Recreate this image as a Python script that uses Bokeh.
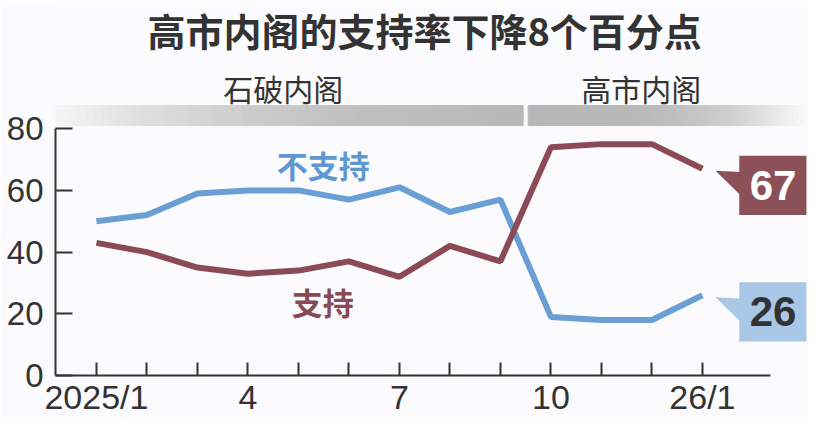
import numpy as np
from bokeh.plotting import figure
from bokeh.models import Range1d, FixedTicker, Label
from bokeh.embed import file_html
from bokeh.resources import INLINE

# ---- data ----
tick_labels = ["2025/1", "", "", "4", "", "", "7", "", "", "10", "", "", "26/1"]
support = [43, 40, 35, 33, 34, 37, 32, 42, 37, 74, 75, 75, 67]      # 支持
oppose = [50, 52, 59, 60, 60, 57, 61, 53, 57, 19, 18, 18, 26]       # 不支持
y_ticks = [0, 20, 40, 60, 80]
cabinets = ["石破内阁", "高市内阁"]
cabinet_split = 8.5   # between 2025/9 and 2025/10
title_text = "高市内阁的支持率下降8个百分点"

idx = list(range(len(tick_labels)))

BG = "#fbfbfd"
BLUE = "#6a9fd6"
RED = "#8b4a55"
BOX_RED = "#8c5059"
BOX_BLUE = "#a9c7e6"
DARK = "#333333"

X0 = -0.81
p = figure(width=808, height=418, x_range=Range1d(X0, X0 + 753 / 50.5), y_range=Range1d(0, 375 / 3.085),
           output_backend="svg", toolbar_location=None, title=None,
           min_border_left=55, min_border_right=0, min_border_top=0, min_border_bottom=43)
p.background_fill_color = BG
p.border_fill_color = BG
p.outline_line_color = None
p.grid.visible = False

# axes
p.xaxis.ticker = FixedTicker(ticks=idx)
p.xaxis.major_label_overrides = {i: lab for i, lab in enumerate(tick_labels)}
p.xaxis.bounds = (X0, 13.35)
p.xaxis.major_tick_in = 13
p.xaxis.major_tick_out = 0
p.xaxis.major_label_standoff = 2
p.xaxis.major_label_text_font_size = "34px"

p.yaxis.ticker = FixedTicker(ticks=y_ticks)
p.yaxis.bounds = (0, 80)
p.yaxis.major_tick_in = 17
p.yaxis.major_tick_out = 0
p.yaxis.major_label_standoff = 12
p.yaxis.major_label_text_font_size = "33px"

for ax in (p.xaxis, p.yaxis):
    ax.minor_tick_line_color = None
    ax.axis_line_color = DARK
    ax.axis_line_width = 2
    ax.major_tick_line_color = DARK
    ax.major_tick_line_width = 2
    ax.major_label_text_font = "Liberation Sans"
    ax.major_label_text_color = DARK

# ---- gradient bands for the two cabinets ----
def hexc(c):
    return "#%02x%02x%02x" % tuple(int(round(v)) for v in c)

def band(x0, x1, stops, n=60):
    edges = np.linspace(x0, x1, n + 1)
    sx = [s[0] for s in stops]
    sv = [s[1] for s in stops]
    cols = []
    for a, b in zip(edges[:-1], edges[1:]):
        t = (a + b) / 2
        g = np.interp(t, sx, sv)
        cols.append(hexc((g, g, g + 1)))
    p.quad(left=edges[:-1], right=edges[1:], top=87.5, bottom=81.0,
           fill_color=cols, line_color=cols, line_width=1)

band(X0, cabinet_split - 0.05, [(-0.9, 246), (1.0, 222), (3.0, 205), (5.0, 192), (8.5, 184)])
band(cabinet_split + 0.05, 14.0, [(8.55, 182), (11.0, 186), (12.5, 205), (14.0, 248)])

for name, cx in zip(cabinets, [3.7, 10.79]):
    p.add_layout(Label(x=cx, y=93.2, text=name, text_align="center", text_baseline="middle",
                       text_font="Noto Sans CJK SC", text_font_size="30px", text_color=DARK))

# ---- lines ----
p.line(idx, oppose, line_color=BLUE, line_width=6)
p.line(idx, support, line_color=RED, line_width=6)

# ---- callouts for the last values ----
last = idx[-1]
for v, fill, tcol in [(support[-1], BOX_RED, "white"), (oppose[-1], BOX_BLUE, DARK)]:
    p.quad(left=[last + 0.73], right=[last + 2.06], top=[v + 4.2], bottom=[v - 15.0],
           fill_color=fill, line_color=None)
    p.patch([last + 0.26, last + 0.75, last + 0.75], [v - 0.6, v - 1.0, v - 8.5],
            fill_color=fill, line_color=None)
    p.add_layout(Label(x=last + 1.40, y=v - 5.4, text=str(v), text_align="center",
                       text_baseline="middle", text_font="Liberation Sans", text_font_style="bold",
                       text_font_size="42px", text_color=tcol))

# ---- series labels ----
p.add_layout(Label(x=4.49, y=68.4, text="不支持", text_align="center", text_baseline="middle",
                   text_font="Noto Sans CJK SC", text_font_style="bold", text_font_size="31px",
                   text_color="#5f97d0"))
p.add_layout(Label(x=4.48, y=24.0, text="支持", text_align="center", text_baseline="middle",
                   text_font="Noto Sans CJK SC", text_font_style="bold", text_font_size="31px",
                   text_color="#8a4a55"))

# ---- % and title ----
p.add_layout(Label(x=-1.37, y=92.7, text="%", text_align="center", text_baseline="middle",
                   text_font="Liberation Sans", text_font_size="34px", text_color=DARK))
p.add_layout(Label(x=6.5, y=112.0, text=title_text, text_align="center", text_baseline="middle",
                   text_font="Noto Sans CJK SC", text_font_style="bold", text_font_size="38px",
                   text_color=DARK))

open("out.html", "w").write(file_html(p, INLINE))
